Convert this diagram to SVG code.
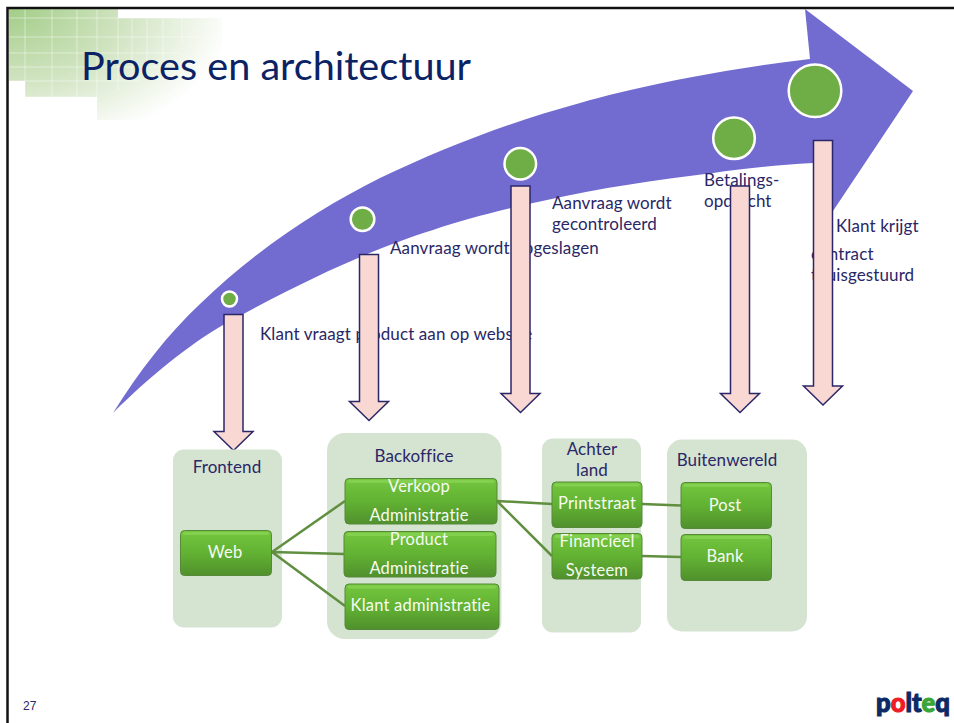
<svg xmlns="http://www.w3.org/2000/svg" width="954" height="723" viewBox="0 0 954 723">
<style>
text{font-family:"Lato","Open Sans","Liberation Sans",sans-serif}
.t{fill:#2a2766;font-size:17px;letter-spacing:.1px}
.m{text-anchor:middle}
.w{fill:#f6fbf2;font-size:16.5px;letter-spacing:.2px;text-anchor:middle}
.panel{fill:#d5e3d1}
.box{fill:url(#boxg);stroke:#56893a;stroke-width:1}
.hi{fill:#8ad455;opacity:.75}
.arr{fill:#f9d8d3;stroke:#2b2668;stroke-width:1.5;stroke-linejoin:miter}
.dot{fill:#6fad46;stroke:#fff;stroke-width:2.5}
.con{fill:none;stroke:#5f8f3f;stroke-width:2.5}
.grid{stroke:#fff;stroke-opacity:.45;stroke-width:1;fill:none}
</style>
<defs>
<linearGradient id="boxg" x1="0" y1="0" x2="0" y2="1">
<stop offset="0" stop-color="#74c63e"/><stop offset=".5" stop-color="#62b233"/><stop offset="1" stop-color="#50902c"/>
</linearGradient>
<radialGradient id="deco" gradientUnits="userSpaceOnUse" cx="0" cy="0" r="1" gradientTransform="translate(9 9) scale(225 140)">
<stop offset="0" stop-color="#a3cd88"/><stop offset=".5" stop-color="#cfe3bf"/><stop offset="1" stop-color="#ffffff"/>
</radialGradient>
</defs>
<rect width="954" height="723" fill="#fff"/>
<g id="decor">
<path d="M9 9H118V18H222V120H97V97H25V81H9Z" fill="url(#deco)"/>
<path class="grid" d="M25 9V97M52 9V97M77 9V97M97 9V100M118 18V90M132 18V81M147 18V70M163 18V60M182 18V45M9 18H210M9 37H200M9 53H180M9 67H165M9 81H140M25 97H90"/>
</g>
<path id="frame" d="M7.5 723V8H954" fill="none" stroke="#111" stroke-width="2.5"/>
<text x="81" y="80" fill="#0b2265" font-size="38" textLength="390" lengthAdjust="spacingAndGlyphs">Proces en architectuur</text>
<path id="big-arrow" fill="#736cd0" d="M113 413C140 370 168 334 200 304C258 248 320 208 380 178C445 147 510 122 580 103C640 86 725 69 810 59L805 9L913 91L825 223L813 235L813 163C775 165 740 169 713 173C655 180 600 188 547 200C505 209 465 219 433 230C378 247 310 277 223 325C190 344 150 376 113 413Z"/>
<g id="labels">
<text class="t" x="260" y="340">Klant vraagt product aan op website</text>
<text class="t" x="390" y="254">Aanvraag wordt opgeslagen</text>
<text class="t" x="552" y="209">Aanvraag wordt</text>
<text class="t" x="552" y="230">gecontroleerd</text>
<text class="t" x="704" y="186">Betalings-</text>
<text class="t" x="704" y="207">opdracht</text>
<text class="t" x="836" y="232">Klant krijgt</text>
<text class="t" x="811" y="260">contract</text>
<text class="t" x="811" y="281">thuisgestuurd</text>
</g>
<g id="steps">
<circle class="dot" cx="229.5" cy="299" r="7.500"/>
<circle class="dot" cx="362.500" cy="219.300" r="11.800"/>
<circle class="dot" cx="520.300" cy="163.700" r="15.800"/>
<circle class="dot" cx="734" cy="138.300" r="20.800"/>
<circle class="dot" cx="815" cy="90.700" r="26.300"/>
</g>
<g id="arrows">
<path id="arrow1" class="arr" d="M224 314.500H243V431.500H253L233.500 450.500L214 431.500H224Z"/>
<path id="arrow2" class="arr" d="M359.500 254.500H378.500V401.500H388.500L369 420.500L349.500 401.500H359.500Z"/>
<path id="arrow3" class="arr" d="M511 186H530V393.500H540L520.500 412.500L501 393.500H511Z"/>
<path id="arrow4" class="arr" d="M730.500 186H749.500V393.500H759.500L740 412.500L720.500 393.500H730.500Z"/>
<path id="arrow5" class="arr" d="M813.500 140.500H832.500V386H842.500L823 405L803.500 386H813.500Z"/>
</g>
<g id="frontend"><rect class="panel" x="173" y="449.500" width="109" height="178" rx="11"/><text class="t m" x="227" y="473">Frontend</text></g>
<g id="backoffice"><rect class="panel" x="327" y="433" width="174.500" height="206" rx="18"/><text class="t m" x="414" y="462">Backoffice</text></g>
<g id="achterland"><rect class="panel" x="542" y="438.500" width="99" height="194" rx="11"/><text class="t m" x="592" y="455">Achter</text><text class="t m" x="592" y="475.500">land</text></g>
<g id="buitenwereld"><rect class="panel" x="667" y="439.500" width="140" height="192" rx="15"/><text class="t m" x="727" y="466">Buitenwereld</text></g>
<g id="connectors">
<path class="con" d="M272 552L345 501M272 552L344 554M272 552L345 606M497 501L552 504M497 501L552 556M642 504L681 505.500M642 556L681 557"/>
</g>
<g id="web"><rect class="box" x="180.500" y="530.500" width="91" height="45" rx="4"/><rect class="hi" x="183" y="532" width="86" height="3" rx="1.500"/><text class="w" x="225" y="558">Web</text></g>
<g id="verkoop"><rect class="box" x="345" y="478.500" width="152" height="45.500" rx="4"/><rect class="hi" x="347.500" y="480" width="147" height="3" rx="1.500"/><text class="w" x="419" y="492">Verkoop</text><text class="w" x="419" y="521">Administratie</text></g>
<g id="product"><rect class="box" x="344" y="531.500" width="152" height="45.500" rx="4"/><rect class="hi" x="346.500" y="533" width="147" height="3" rx="1.500"/><text class="w" x="419" y="545">Product</text><text class="w" x="419" y="574">Administratie</text></g>
<g id="klant"><rect class="box" x="345" y="584" width="154" height="45.500" rx="4"/><rect class="hi" x="347.500" y="585.500" width="149" height="3" rx="1.500"/><text class="w" x="420.500" y="611">Klant administratie</text></g>
<g id="printstraat"><rect class="box" x="552" y="482" width="90" height="45.500" rx="4"/><rect class="hi" x="554.500" y="483.500" width="85" height="3" rx="1.500"/><text class="w" x="597" y="509">Printstraat</text></g>
<g id="financieel"><rect class="box" x="552" y="533.500" width="90" height="45.500" rx="4"/><rect class="hi" x="554.500" y="535" width="85" height="3" rx="1.500"/><text class="w" x="597" y="547">Financieel</text><text class="w" x="597" y="576">Systeem</text></g>
<g id="post"><rect class="box" x="681" y="482.500" width="90.500" height="46" rx="4"/><rect class="hi" x="683.500" y="484" width="85.500" height="3" rx="1.500"/><text class="w" x="725" y="511">Post</text></g>
<g id="bank"><rect class="box" x="681" y="534.500" width="90.500" height="46" rx="4"/><rect class="hi" x="683.500" y="536" width="85.500" height="3" rx="1.500"/><text class="w" x="725" y="562">Bank</text></g>
<text id="page" x="23" y="710" fill="#2a2766" font-size="12" style="font-family:'Liberation Sans',sans-serif">27</text>
<text id="logo" x="876" y="712" font-size="27" font-weight="900" textLength="74" lengthAdjust="spacingAndGlyphs" fill="#0e2a66" stroke-width="1.100"><tspan stroke="#0e2a66">p</tspan><tspan fill="#ee1c25" stroke="#ee1c25">o</tspan><tspan stroke="#0e2a66">lt</tspan><tspan fill="#3aa535" stroke="#3aa535">e</tspan><tspan stroke="#0e2a66">q</tspan></text>
</svg>
